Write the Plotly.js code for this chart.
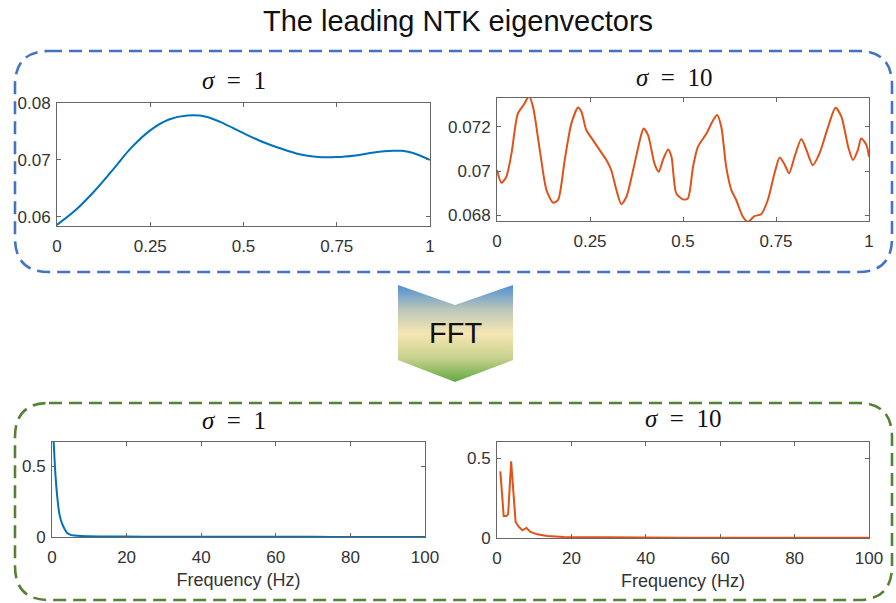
<!DOCTYPE html>
<html>
<head>
<meta charset="utf-8">
<script src="https://cdn.plot.ly/plotly-3.0.1.min.js"></script>
<style>
  html, body { margin: 0; padding: 0; background: #fff; }
  #chart { width: 896px; height: 603px; }
</style>
</head>
<body>
<div id="chart"></div>
<script>
// Leading NTK eigenvector, sigma = 1 (smooth)
const xS1 = [0, 0.05, 0.1, 0.15, 0.2, 0.25, 0.3, 0.35, 0.4, 0.45, 0.5, 0.55, 0.6, 0.65, 0.7, 0.75, 0.8, 0.85, 0.9, 0.925, 0.95, 1.0];
const vS1 = [0.0586, 0.0612, 0.0645, 0.0683, 0.0722, 0.0752, 0.0771, 0.0778, 0.0776, 0.0763, 0.0747, 0.0732, 0.0720, 0.0710, 0.0705, 0.0705, 0.0708, 0.0713, 0.0716, 0.0716, 0.0713, 0.0700];

// Leading NTK eigenvector, sigma = 10 (oscillating)
const xS10 = [0, 0.012, 0.025, 0.039, 0.056, 0.074, 0.086, 0.097, 0.115, 0.133, 0.151, 0.164, 0.182, 0.2, 0.218, 0.227, 0.24, 0.258, 0.276, 0.294, 0.307, 0.321, 0.334, 0.348, 0.366, 0.384, 0.394, 0.406, 0.424, 0.435, 0.446, 0.46, 0.469, 0.482, 0.5, 0.513, 0.527, 0.54, 0.563, 0.581, 0.592, 0.603, 0.616, 0.63, 0.643, 0.661, 0.675, 0.692, 0.71, 0.728, 0.746, 0.76, 0.773, 0.785, 0.8, 0.818, 0.832, 0.849, 0.867, 0.89, 0.91, 0.926, 0.944, 0.957, 0.97, 0.979, 0.993, 1.0];
const vS10 = [0.07005, 0.06947, 0.06974, 0.0708, 0.0726, 0.07306, 0.07340, 0.0729, 0.07095, 0.06914, 0.06857, 0.06869, 0.0705, 0.07216, 0.07288, 0.07269, 0.07186, 0.0714, 0.07095, 0.0705, 0.07005, 0.06914, 0.0685, 0.06884, 0.07005, 0.0714, 0.07193, 0.07163, 0.0703, 0.06997, 0.0705, 0.07098, 0.07065, 0.06899, 0.06872, 0.06876, 0.0702, 0.0711, 0.0717, 0.0723, 0.07254, 0.0720, 0.0702, 0.06914, 0.06869, 0.06793, 0.0677, 0.06796, 0.06805, 0.06869, 0.0699, 0.07062, 0.0703, 0.0699, 0.07065, 0.07145, 0.07095, 0.07027, 0.0708, 0.0720, 0.07287, 0.07246, 0.0711, 0.0705, 0.07095, 0.07148, 0.07118, 0.07065];

// FFT magnitude spectra
const fS1 = [0.4, 0.9, 1.5, 2, 2.7, 3.3, 4, 5, 6.7, 8, 10, 15, 20, 30, 40, 50, 60, 70, 80, 90, 100];
const aS1 = [0.70, 0.45, 0.26, 0.16, 0.094, 0.06, 0.03, 0.015, 0.009, 0.007, 0.005, 0.004, 0.003, 0.002, 0.0015, 0.0012, 0.001, 0.001, 0.0008, 0.0008, 0.0007];
const fS10 = [0.9, 1.8, 2.5, 3, 3.8, 4.3, 5.0, 5.9, 6.8, 7.9, 9, 10.8, 13.5, 18, 25, 30, 40, 50, 60, 70, 80, 90, 100];
const aS10 = [0.416, 0.137, 0.137, 0.149, 0.479, 0.342, 0.10, 0.069, 0.048, 0.063, 0.038, 0.023, 0.0126, 0.006, 0.004, 0.003, 0.0025, 0.002, 0.0018, 0.0015, 0.0013, 0.0012, 0.001];

// Tick values
const xTicksUnit = [0, 0.25, 0.5, 0.75, 1];
const yTicksS1 = [0.06, 0.07, 0.08];
const yTicksS10 = [0.068, 0.07, 0.072];
const xTicksFreq = [0, 20, 40, 60, 80, 100];
const yTicksFreq = [0, 0.5];

const W = 896, H = 603;
const BLUE = '#0072BD', ORANGE = '#E0521A';
const px = v => v / W;
const py = v => 1 - v / H;

function frame(extra) {
  return Object.assign({
    showline: true, mirror: 'ticks', linecolor: '#666', linewidth: 1,
    ticks: 'inside', ticklen: 4, tickcolor: '#666', tickwidth: 1,
    showgrid: false, zeroline: false, fixedrange: true,
    tickfont: { family: 'Liberation Sans, Arial, sans-serif', size: 17, color: '#333' }
  }, extra);
}
const xFrame = extra => frame(Object.assign({ ticklabelstandoff: 5 }, extra));
const yFrame = extra => frame(Object.assign({ ticklabelstandoff: 2 }, extra));

// rounded dashed box in pixel space
function roundedBox(x0, y0, x1, y1, r) {
  return `M ${x0 + r} ${y0} L ${x1 - r} ${y0} Q ${x1} ${y0} ${x1} ${y0 + r} ` +
         `L ${x1} ${y1 - r} Q ${x1} ${y1} ${x1 - r} ${y1} ` +
         `L ${x0 + r} ${y1} Q ${x0} ${y1} ${x0} ${y1 - r} ` +
         `L ${x0} ${y0 + r} Q ${x0} ${y0} ${x0 + r} ${y0} Z`;
}

// chevron outline for the FFT arrow
const chevX = [398, 455, 513, 513, 455, 398, 398];
const chevY = [285, 305, 285, 360, 382, 360, 285];

const traces = [
  { x: xS1, y: vS1, xaxis: 'x', yaxis: 'y', mode: 'lines', line: { color: BLUE, width: 2, shape: 'spline', smoothing: 1 }, hoverinfo: 'skip' },
  { x: xS10, y: vS10, xaxis: 'x2', yaxis: 'y2', mode: 'lines', line: { color: ORANGE, width: 2, shape: 'spline', smoothing: 0.7 }, hoverinfo: 'skip' },
  { x: fS1, y: aS1, xaxis: 'x3', yaxis: 'y3', mode: 'lines', line: { color: BLUE, width: 2, shape: 'spline', smoothing: 0.6 }, hoverinfo: 'skip' },
  { x: fS10, y: aS10, xaxis: 'x4', yaxis: 'y4', mode: 'lines', line: { color: ORANGE, width: 2 }, hoverinfo: 'skip' },
  { x: chevX, y: chevY, xaxis: 'x5', yaxis: 'y5', mode: 'lines', line: { width: 0 }, fill: 'toself',
    fillgradient: { type: 'vertical', start: 285, stop: 382,
      colorscale: [[0, '#4f8fd6'], [0.25, '#b9c6b8'], [0.5, '#f6e6b4'], [0.75, '#c8d28e'], [1, '#62a844']] },
    hoverinfo: 'skip' }
];

const SIG = { family: 'Liberation Serif, DejaVu Serif, serif', size: 25, color: '#111' };
const FREQ_TITLE = { text: 'Frequency (Hz)', standoff: 6, font: { family: 'Liberation Sans, Arial, sans-serif', size: 18, color: '#333' } };

const layout = {
  width: W, height: H,
  margin: { l: 0, r: 0, t: 0, b: 0 },
  paper_bgcolor: '#fff', plot_bgcolor: 'rgba(0,0,0,0)',
  showlegend: false,
  title: { text: 'The leading NTK eigenvectors', x: px(458), xanchor: 'center', y: py(21), yanchor: 'middle',
           font: { family: 'Liberation Sans, Arial, sans-serif', size: 29, color: '#111' } },
  xaxis: xFrame({ domain: [px(57), px(430)], range: [0, 1], tickvals: xTicksUnit, anchor: 'y' }),
  yaxis: yFrame({ domain: [py(226), py(103)], range: [0.0584, 0.08], tickvals: yTicksS1, anchor: 'x' }),
  xaxis2: xFrame({ domain: [px(497), px(869)], range: [0, 1], tickvals: xTicksUnit, anchor: 'y2' }),
  yaxis2: yFrame({ domain: [py(221), py(98)], range: [0.06774, 0.07331], tickvals: yTicksS10, anchor: 'x2' }),
  xaxis3: xFrame({ domain: [px(52), px(425)], range: [0, 100], tickvals: xTicksFreq, anchor: 'y3', title: FREQ_TITLE }),
  yaxis3: yFrame({ domain: [py(537), py(442)], range: [0, 0.672], tickvals: yTicksFreq, anchor: 'x3' }),
  xaxis4: xFrame({ domain: [px(497), px(869)], range: [0, 100], tickvals: xTicksFreq, anchor: 'y4', title: FREQ_TITLE }),
  yaxis4: yFrame({ domain: [py(538), py(442)], range: [0, 0.6], tickvals: yTicksFreq, anchor: 'x4' }),
  xaxis5: { domain: [0, 1], range: [0, W], visible: false, fixedrange: true, anchor: 'y5' },
  yaxis5: { domain: [0, 1], range: [H, 0], visible: false, fixedrange: true, anchor: 'x5' },
  shapes: [
    { type: 'path', xref: 'x5', yref: 'y5', path: roundedBox(15, 51, 892, 272, 34),
      line: { color: '#4472C4', width: 2.6, dash: '13px,7px' }, layer: 'below' },
    { type: 'path', xref: 'x5', yref: 'y5', path: roundedBox(15, 403, 892, 600, 34),
      line: { color: '#548235', width: 2.6, dash: '13px,7px' }, layer: 'below' }
  ],
  annotations: [
    { text: '<i>σ</i>\u2002=\u20021', xref: 'paper', yref: 'paper', x: px(234), y: py(80), showarrow: false, xanchor: 'center', yanchor: 'middle', font: SIG },
    { text: '<i>σ</i>\u2002=\u200210', xref: 'paper', yref: 'paper', x: px(674), y: py(78), showarrow: false, xanchor: 'center', yanchor: 'middle', font: SIG },
    { text: '<i>σ</i>\u2002=\u20021', xref: 'paper', yref: 'paper', x: px(234), y: py(420), showarrow: false, xanchor: 'center', yanchor: 'middle', font: SIG },
    { text: '<i>σ</i>\u2002=\u200210', xref: 'paper', yref: 'paper', x: px(683), y: py(418), showarrow: false, xanchor: 'center', yanchor: 'middle', font: SIG },
    { text: 'FFT', xref: 'paper', yref: 'paper', x: px(455), y: py(333), showarrow: false, xanchor: 'center', yanchor: 'middle',
      font: { family: 'Liberation Sans, Arial, sans-serif', size: 29, color: '#111' } }
  ]
};

Plotly.newPlot('chart', traces, layout, { staticPlot: true, displayModeBar: false });
</script>
</body>
</html>
